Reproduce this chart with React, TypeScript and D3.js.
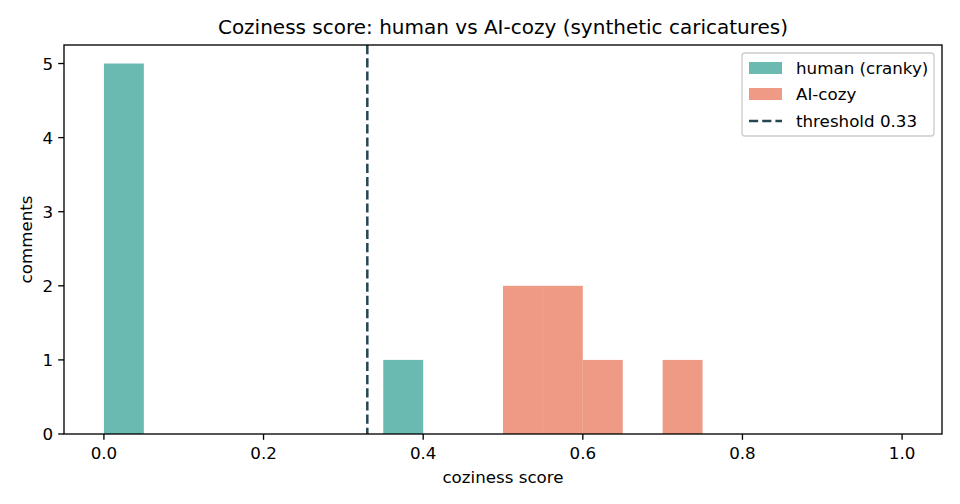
import React from 'react';
import * as d3 from 'd3';

// bin edges (width 0.05) and counts per series
const binStarts = [0, 0.05, 0.1, 0.15, 0.2, 0.25, 0.3, 0.35, 0.4, 0.45, 0.5, 0.55, 0.6, 0.65, 0.7, 0.75, 0.8, 0.85, 0.9, 0.95];
const humanCounts = [5, 0, 0, 0, 0, 0, 0, 1, 0, 0, 0, 0, 0, 0, 0, 0, 0, 0, 0, 0];
const cozyCounts = [0, 0, 0, 0, 0, 0, 0, 0, 0, 0, 2, 2, 1, 0, 1, 0, 0, 0, 0, 0];
const binWidth = 0.05;
const threshold = 0.33;
const xTicks = [0, 0.2, 0.4, 0.6, 0.8, 1.0];
const yTicks = [0, 1, 2, 3, 4, 5];
const legendLabels = ['human (cranky)', 'AI-cozy', 'threshold 0.33'];

const W = 960, H = 504;
const left = 64, right = 942, top = 45, bottom = 434;
const humanColor = 'rgb(106,186,177)';
const cozyColor = 'rgb(238,154,133)';
const lineColor = '#264653';
const font = 'DejaVu Sans, sans-serif';
const fs = 16.7;
const dash = '9.2,4';

const App = () => {
  const x = d3.scaleLinear().domain([-0.05, 1.05]).range([left, right]);
  const y = d3.scaleLinear().domain([0, 5.25]).range([bottom, top]);

  const bars = (counts: number[], color: string, key: string) =>
    binStarts.map((b, i) => counts[i] > 0 ? (
      <rect key={key + i} x={x(b)} y={y(counts[i])} width={x(b + binWidth) - x(b)}
        height={y(0) - y(counts[i])} fill={color} />
    ) : null);

  return (
    <svg width={W} height={H} style={{ position: 'absolute', left: 0, top: 0 }} fontFamily={font}>
      <rect width={W} height={H} fill="white" />
      <text x={(left + right) / 2} y={34} textAnchor="middle" fontSize={20}>
        Coziness score: human vs AI-cozy (synthetic caricatures)
      </text>
      {bars(humanCounts, humanColor, 'h')}
      {bars(cozyCounts, cozyColor, 'c')}
      <line x1={x(threshold)} x2={x(threshold)} y1={top} y2={bottom} stroke={lineColor}
        strokeWidth={2.5} strokeDasharray={dash} />
      <rect x={left} y={top} width={right - left} height={bottom - top} fill="none" stroke="black" strokeWidth={1.33} />
      {xTicks.map(t => (
        <g key={'x' + t}>
          <line x1={x(t)} x2={x(t)} y1={bottom} y2={bottom + 5.8} stroke="black" strokeWidth={1.33} />
          <text x={x(t)} y={459} textAnchor="middle" fontSize={fs}>{t.toFixed(1)}</text>
        </g>
      ))}
      {yTicks.map(t => (
        <g key={'y' + t}>
          <line x1={left - 5.8} x2={left} y1={y(t)} y2={y(t)} stroke="black" strokeWidth={1.33} />
          <text x={left - 11} y={y(t) + 6} textAnchor="end" fontSize={fs}>{t}</text>
        </g>
      ))}
      <text x={(left + right) / 2} y={483} textAnchor="middle" fontSize={fs}>coziness score</text>
      <text transform={`translate(32,${(top + bottom) / 2}) rotate(-90)`} textAnchor="middle" fontSize={fs}>comments</text>
      <g>
        <rect x={742} y={53} width={192} height={83} rx={3} fill="white" fillOpacity={0.8} stroke="#cccccc" strokeWidth={1.33} />
        <rect x={749} y={62} width={33} height={12} fill={humanColor} />
        <text x={796} y={74} fontSize={fs}>{legendLabels[0]}</text>
        <rect x={749} y={88} width={33} height={12} fill={cozyColor} />
        <text x={796} y={100} fontSize={fs}>{legendLabels[1]}</text>
        <line x1={749} x2={782} y1={121} y2={121} stroke={lineColor} strokeWidth={2.5} strokeDasharray={dash} />
        <text x={796} y={127} fontSize={fs}>{legendLabels[2]}</text>
      </g>
    </svg>
  );
};

export default App;
